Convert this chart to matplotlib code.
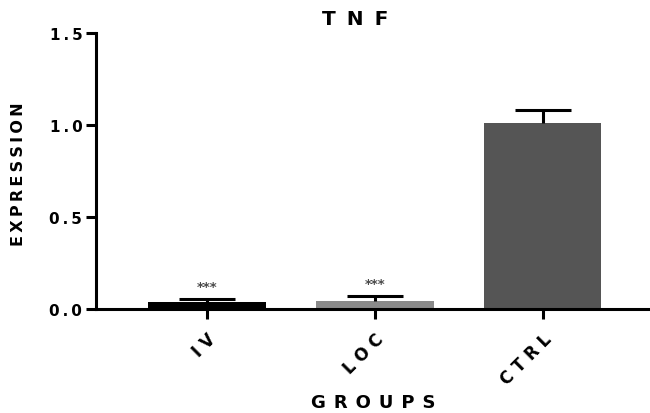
import matplotlib.pyplot as plt
import numpy as np

groups = ["IV", "LOC", "CTRL"]
expression = [0.038, 0.045, 1.01]
sem_upper = [0.018, 0.026, 0.07]
significance = ["***", "***", ""]
bar_colors = ["#000000", "#8a8a8a", "#555555"]
y_ticks = [0.0, 0.5, 1.0, 1.5]

THIN = "\u2009"


def spaced(text, sep=" "):
    return sep.join(text)


plt.rcParams["font.family"] = ["DejaVu Sans"]
plt.rcParams["font.weight"] = "bold"

fig = plt.figure(figsize=(6.5, 4.14), dpi=100)
ax = fig.add_axes([0.148, 0.251, 0.852, 0.667])

x = np.arange(len(groups))
ax.bar(x, expression, width=0.7, color=bar_colors, zorder=2)
_, caps, _ = ax.errorbar(
    x,
    expression,
    yerr=[np.zeros(len(groups)), sem_upper],
    fmt="none",
    ecolor="black",
    elinewidth=2.2,
    capsize=20,
    capthick=2.2,
    zorder=3,
)
# only the upper cap is drawn
caps[0].set_visible(False)

for xi, val, err, mark in zip(x, expression, sem_upper, significance):
    if mark:
        ax.text(xi, val + err + 0.033, mark, ha="center", va="bottom",
                fontsize=9.5, color="#4a4a4a")

ax.set_xlim(-0.66, 2.64)
ax.set_ylim(0, 1.5)
ax.set_yticks(y_ticks)
ax.set_yticklabels([spaced(f"{t:.1f}", THIN) for t in y_ticks], fontsize=11)
ax.set_xticks(x)
ax.set_xticklabels([spaced(g) for g in groups], fontsize=12,
                   rotation=45, ha="right", rotation_mode="anchor")

for side in ("top", "right"):
    ax.spines[side].set_visible(False)
for side in ("left", "bottom"):
    ax.spines[side].set_linewidth(2.2)
ax.tick_params(axis="both", direction="out", length=7, width=2.2, pad=3)
ax.tick_params(axis="x", pad=8)

fig.text(0.029, 0.58, spaced("EXPRESSION", THIN), ha="center", va="center",
         rotation=90, fontsize=11.5, fontweight="bold")
fig.text(0.574, 0.027, spaced("GROUPS", " \u200a"), ha="center", va="center",
         fontsize=13, fontweight="bold")
fig.text(0.546, 0.952, spaced("TNF", " " + THIN), ha="center", va="center",
         fontsize=14.5, fontweight="bold")

fig.savefig("out.png", dpi=100)
